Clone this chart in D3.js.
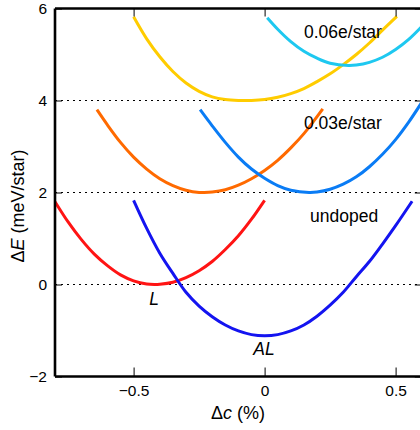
<!DOCTYPE html>
<html>
<head>
<meta charset="utf-8">
<script src="https://cdn.jsdelivr.net/npm/d3@7"></script>
<style>
  html, body { margin: 0; padding: 0; background: #fff; }
  svg { display: block; font-family: "Liberation Sans", Arial, Helvetica, sans-serif; }
</style>
</head>
<body>
<svg id="chart" width="420" height="430"></svg>
<script>
// ---- data ----
const xTicks = [-0.5, 0, 0.5];
const xTickLabels = ["\u22120.5", "0", "0.5"];
const yTicks = [-2, 0, 2, 4, 6];
const yTickLabels = ["\u22122", "0", "2", "4", "6"];
const refLines = [0, 2, 4];

// undoped, L phase (red)
const undopedL = [[-0.80,1.80],[-0.75,1.36],[-0.70,0.98],[-0.65,0.66],[-0.60,0.41],[-0.55,0.21],[-0.50,0.08],[-0.45,0.01],[-0.42,0.00],[-0.40,0.005],[-0.35,0.05],[-0.30,0.15],[-0.25,0.30],[-0.20,0.50],[-0.15,0.76],[-0.10,1.06],[-0.05,1.42],[0.00,1.83]];
// undoped, AL phase (blue)
const undopedAL = [[-0.50,1.83],[-0.45,1.22],[-0.40,0.68],[-0.35,0.24],[-0.30,-0.17],[-0.25,-0.47],[-0.20,-0.70],[-0.15,-0.88],[-0.10,-1.01],[-0.05,-1.09],[0.00,-1.115],[0.05,-1.09],[0.10,-1.01],[0.15,-0.88],[0.20,-0.69],[0.25,-0.45],[0.30,-0.17],[0.35,0.17],[0.40,0.50],[0.45,0.88],[0.50,1.28],[0.563,1.81]];
// 0.03 e/star, L (orange)
const dop03L = [[-0.64,3.80],[-0.60,3.47],[-0.55,3.09],[-0.50,2.77],[-0.45,2.51],[-0.40,2.30],[-0.35,2.15],[-0.30,2.05],[-0.25,2.00],[-0.235,2.00],[-0.20,2.01],[-0.15,2.06],[-0.10,2.16],[-0.05,2.30],[0.00,2.48],[0.05,2.70],[0.10,2.97],[0.15,3.28],[0.222,3.82]];
// 0.03 e/star, AL (mid blue)
const dop03AL = [[-0.246,3.80],[-0.20,3.45],[-0.15,3.09],[-0.10,2.77],[-0.05,2.51],[0.00,2.31],[0.05,2.15],[0.10,2.05],[0.17,2.00],[0.20,2.01],[0.25,2.07],[0.30,2.18],[0.35,2.34],[0.40,2.56],[0.45,2.83],[0.50,3.15],[0.55,3.53],[0.60,3.96]];
// 0.06 e/star, L (yellow)
const dop06L = [[-0.50,5.82],[-0.45,5.34],[-0.40,4.95],[-0.35,4.63],[-0.30,4.38],[-0.25,4.20],[-0.20,4.08],[-0.15,4.02],[-0.10,4.00],[-0.05,4.00],[0.00,4.02],[0.05,4.07],[0.10,4.15],[0.15,4.26],[0.20,4.41],[0.25,4.58],[0.30,4.78],[0.35,5.00],[0.40,5.25],[0.45,5.53],[0.505,5.83]];
// 0.06 e/star, AL (cyan)
const dop06AL = [[0.01,5.80],[0.05,5.55],[0.10,5.28],[0.15,5.07],[0.20,4.92],[0.25,4.81],[0.32,4.76],[0.35,4.77],[0.40,4.83],[0.45,4.94],[0.50,5.11],[0.55,5.33],[0.60,5.61]];

const seriesList = [
  { data: undopedL,  color: "#ff1414" },
  { data: undopedAL, color: "#1414f0" },
  { data: dop03L,    color: "#ff6a00" },
  { data: dop03AL,   color: "#0a7cf5" },
  { data: dop06L,    color: "#ffcc00" },
  { data: dop06AL,   color: "#1ec8f0" }
];

// ---- layout ----
const svg = d3.select("#chart");
const pLeft = 55, pTop = 8.5, pBottom = 376.5;
const x = d3.scaleLinear().domain([-0.8, 0.6]).range([pLeft, pLeft + 1.4 * 262]);
const y = d3.scaleLinear().domain([-2, 6]).range([pBottom, pTop]);
const pRight = x(0.6);

svg.append("defs").append("clipPath").attr("id", "plotclip")
  .append("rect").attr("x", pLeft).attr("y", pTop).attr("width", pRight - pLeft).attr("height", pBottom - pTop);

// dotted reference lines
svg.append("g").selectAll("line").data(refLines).join("line")
  .attr("x1", pLeft).attr("x2", pRight)
  .attr("y1", d => y(d)).attr("y2", d => y(d))
  .attr("stroke", "#000").attr("stroke-width", 1.1)
  .attr("stroke-dasharray", "2,4");

// curves
const line = d3.line().x(d => x(d[0])).y(d => y(d[1])).curve(d3.curveCatmullRom.alpha(0.5));
svg.append("g").attr("clip-path", "url(#plotclip)")
  .selectAll("path").data(seriesList).join("path")
  .attr("d", d => line(d.data))
  .attr("fill", "none")
  .attr("stroke", d => d.color)
  .attr("stroke-width", 3)
  .attr("stroke-linecap", "butt");

// axes (ticks inward)
const axBottom = d3.axisBottom(x).tickValues(xTicks).tickSize(-9).tickFormat((d, i) => xTickLabels[i]).tickPadding(8);
const axTop = d3.axisTop(x).tickValues(xTicks).tickSize(-8).tickFormat("");
const axLeft = d3.axisLeft(y).tickValues(yTicks).tickSize(-7).tickFormat((d, i) => yTickLabels[i]).tickPadding(8);
const axRight = d3.axisRight(y).tickValues(yTicks).tickSize(-7).tickFormat("");

function styleAxis(g) {
  g.select(".domain").attr("stroke", "#000").attr("stroke-width", 2.6);
  g.selectAll(".tick line").attr("stroke", "#000").attr("stroke-width", 1);
  g.selectAll(".tick text").attr("fill", "#000").attr("font-size", 15.5)
    .attr("font-family", "'Liberation Sans', Arial, sans-serif");
}
svg.append("g").attr("transform", `translate(0,${pBottom})`).call(axBottom).call(g => g.select(".domain").attr("d", `M${pLeft},0H${pRight}`)).call(styleAxis);
svg.append("g").attr("transform", `translate(0,${pTop})`).call(axTop).call(g => g.select(".domain").attr("d", `M${pLeft},0H${pRight}`)).call(styleAxis);
svg.append("g").attr("transform", `translate(${pLeft},0)`).call(axLeft).call(g => g.select(".domain").attr("d", `M0,${pTop}V${pBottom}`)).call(styleAxis);
svg.append("g").attr("transform", `translate(${pRight},0)`).call(axRight).call(g => g.select(".domain").attr("d", `M0,${pTop}V${pBottom}`)).call(styleAxis);

// labels
const txt = (xx, yy, s, opts = {}) => {
  const t = svg.append("text").attr("x", xx).attr("y", yy).attr("font-size", opts.size || 17)
    .attr("fill", "#000").attr("text-anchor", opts.anchor || "start");
  if (opts.italic) t.attr("font-style", "italic");
  t.text(s);
  return t;
};
txt(304, 38, "0.06e/star", { size: 17.5 });
txt(304, 129, "0.03e/star", { size: 17.5 });
txt(310, 222, "undoped", { size: 17.5 });
txt(154, 305, "L", { size: 17.5, italic: true, anchor: "middle" });
txt(264, 355, "AL", { size: 17.5, italic: true, anchor: "middle" });

// x-axis title
const xt = svg.append("text").attr("x", 238).attr("y", 419).attr("text-anchor", "middle")
  .attr("font-size", 18).attr("fill", "#000");
xt.append("tspan").text("\u0394");
xt.append("tspan").attr("font-style", "italic").text("c");
xt.append("tspan").text(" (%)");

// y-axis title
const yt = svg.append("text").attr("transform", "translate(24,206) rotate(-90)")
  .attr("text-anchor", "middle").attr("font-size", 18).attr("fill", "#000");
yt.append("tspan").text("\u0394");
yt.append("tspan").attr("font-style", "italic").text("E");
yt.append("tspan").text(" (meV/star)");
</script>
</body>
</html>
